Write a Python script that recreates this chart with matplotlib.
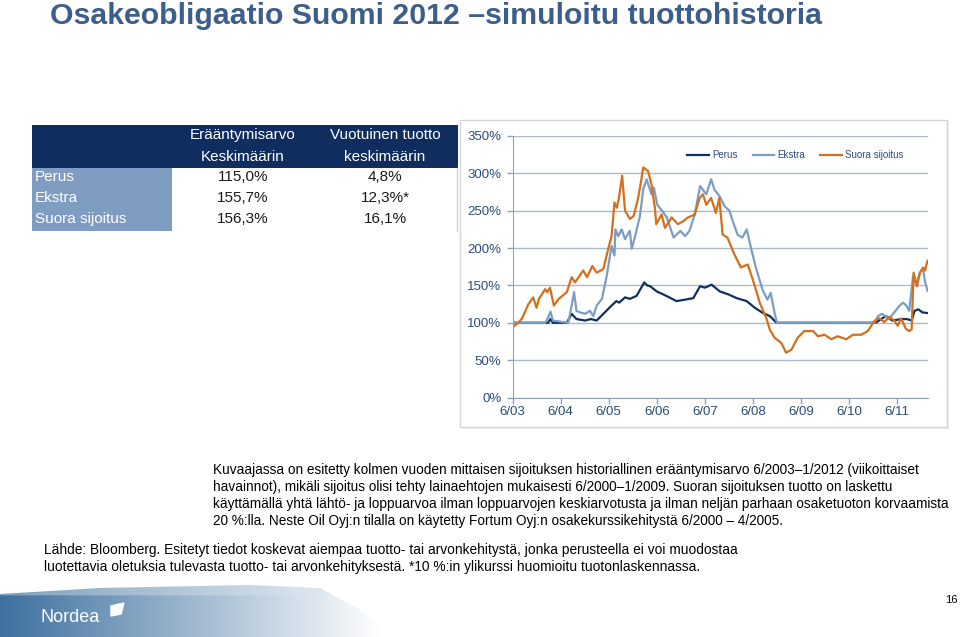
import numpy as np
import matplotlib
matplotlib.use('Agg')
import matplotlib.pyplot as plt
from matplotlib.patches import Rectangle, Polygon

# series data (decimal year, value in %)
perus = [(2003.42, 100), (2004.16, 100), (2004.21, 105), (2004.26, 100), (2004.55, 100),
         (2004.65, 112), (2004.75, 105), (2004.93, 103), (2005.05, 105), (2005.17, 103),
         (2005.34, 114), (2005.48, 123), (2005.58, 129), (2005.64, 127), (2005.76, 134),
         (2005.86, 132), (2006.00, 136), (2006.08, 145), (2006.16, 154), (2006.22, 150),
         (2006.28, 149), (2006.42, 142), (2006.62, 136), (2006.83, 129), (2007.01, 131),
         (2007.18, 133), (2007.32, 149), (2007.42, 147), (2007.56, 151), (2007.73, 142),
         (2007.91, 138), (2008.08, 133), (2008.29, 129), (2008.46, 120), (2008.63, 113),
         (2008.77, 109), (2008.88, 102), (2008.91, 100), (2010.97, 100), (2011.09, 105),
         (2011.18, 109), (2011.32, 103), (2011.51, 105), (2011.62, 105), (2011.72, 103),
         (2011.78, 116), (2011.86, 118), (2011.94, 114), (2012.05, 113)]

ekstra = [(2003.42, 100), (2004.10, 100), (2004.16, 107), (2004.21, 115), (2004.26, 103),
          (2004.58, 100), (2004.65, 123), (2004.70, 141), (2004.75, 116), (2004.82, 114),
          (2004.93, 112), (2005.03, 116), (2005.10, 109), (2005.17, 123), (2005.28, 132),
          (2005.38, 163), (2005.48, 203), (2005.54, 190), (2005.56, 225), (2005.62, 216),
          (2005.69, 225), (2005.76, 212), (2005.83, 220), (2005.86, 223), (2005.90, 199),
          (2005.97, 216), (2006.07, 243), (2006.14, 279), (2006.21, 292), (2006.31, 272),
          (2006.36, 281), (2006.43, 258), (2006.53, 250), (2006.63, 241), (2006.77, 214),
          (2006.91, 223), (2007.01, 216), (2007.10, 223), (2007.21, 245), (2007.32, 283),
          (2007.45, 272), (2007.55, 292), (2007.62, 278), (2007.72, 270), (2007.83, 256),
          (2007.93, 250), (2008.00, 236), (2008.10, 218), (2008.20, 214), (2008.29, 225),
          (2008.38, 200), (2008.48, 174), (2008.62, 144), (2008.72, 131), (2008.79, 140),
          (2008.87, 113), (2008.92, 100), (2010.95, 100), (2011.02, 109), (2011.11, 112),
          (2011.25, 105), (2011.47, 123), (2011.54, 127), (2011.61, 123), (2011.67, 116),
          (2011.75, 163), (2011.82, 150), (2011.89, 167), (2011.96, 172), (2012.00, 154),
          (2012.05, 143)]

suora = [(2003.42, 94), (2003.48, 97), (2003.54, 100), (2003.62, 106), (2003.75, 125),
         (2003.85, 134), (2003.92, 120), (2003.97, 132), (2004.10, 145), (2004.14, 141),
         (2004.20, 147), (2004.28, 123), (2004.38, 132), (2004.55, 141), (2004.65, 161),
         (2004.72, 154), (2004.89, 170), (2004.97, 161), (2005.08, 176), (2005.17, 167),
         (2005.31, 172), (2005.41, 199), (2005.48, 216), (2005.54, 261), (2005.59, 254),
         (2005.63, 266), (2005.70, 297), (2005.76, 250), (2005.86, 239), (2005.94, 243),
         (2006.03, 266), (2006.09, 288), (2006.14, 308), (2006.24, 303), (2006.31, 285),
         (2006.38, 254), (2006.41, 232), (2006.52, 245), (2006.59, 227), (2006.73, 241),
         (2006.86, 232), (2006.97, 236), (2007.07, 241), (2007.21, 245), (2007.31, 267),
         (2007.38, 272), (2007.45, 258), (2007.55, 267), (2007.65, 247), (2007.72, 267),
         (2007.79, 218), (2007.89, 214), (2008.03, 192), (2008.17, 174), (2008.31, 178),
         (2008.38, 165), (2008.46, 149), (2008.56, 127), (2008.70, 106), (2008.77, 91),
         (2008.87, 80), (2009.01, 73), (2009.11, 60), (2009.22, 64), (2009.35, 80),
         (2009.49, 89), (2009.67, 89), (2009.77, 82), (2009.91, 84), (2010.05, 78),
         (2010.18, 82), (2010.36, 78), (2010.50, 84), (2010.67, 84), (2010.81, 89),
         (2010.95, 103), (2011.05, 106), (2011.15, 101), (2011.26, 108), (2011.36, 103),
         (2011.43, 96), (2011.50, 106), (2011.60, 92), (2011.67, 89), (2011.72, 91),
         (2011.76, 167), (2011.83, 149), (2011.89, 167), (2011.96, 174), (2012.00, 170),
         (2012.05, 183)]

x_ticks = [2003.42 + i for i in range(9)]
x_labels = ['6/03', '6/04', '6/05', '6/06', '6/07', '6/08', '6/09', '6/10', '6/11']
y_ticks = [0, 50, 100, 150, 200, 250, 300, 350]

table_cols = [['Erääntymisarvo', 'Keskimäärin'], ['Vuotuinen tuotto', 'keskimäärin']]
table_rows = ['Perus', 'Ekstra', 'Suora sijoitus']
table_vals = [['115,0%', '4,8%'], ['155,7%', '12,3%*'], ['156,3%', '16,1%']]

note_lines = ['Kuvaajassa on esitetty kolmen vuoden mittaisen sijoituksen historiallinen erääntymisarvo 6/2003\u20131/2012 (viikoittaiset',
              'havainnot), mikäli sijoitus olisi tehty lainaehtojen mukaisesti 6/2000\u20131/2009. Suoran sijoituksen tuotto on laskettu',
              'käyttämällä yhtä lähtö- ja loppuarvoa ilman loppuarvojen keskiarvotusta ja ilman neljän parhaan osaketuoton korvaamista',
              '20 %:lla. Neste Oil Oyj:n tilalla on käytetty Fortum Oyj:n osakekurssikehitystä 6/2000 \u2013 4/2005.']
source_lines = ['Lähde: Bloomberg. Esitetyt tiedot koskevat aiempaa tuotto- tai arvonkehitystä, jonka perusteella ei voi muodostaa',
                'luotettavia oletuksia tulevasta tuotto- tai arvonkehityksestä. *10 %:in ylikurssi huomioitu tuotonlaskennassa.']

NAVY = '#0f2d5e'
STEEL = '#7f9cc2'
TITLE = '#3c5e8c'
TICK = '#2b4b7a'
FONT = 'Liberation Sans'

fig = plt.figure(figsize=(9.6, 6.37), dpi=100)

# background canvas in pixel coordinates
bg = fig.add_axes([0, 0, 1, 1])
bg.set_xlim(0, 960)
bg.set_ylim(637, 0)
bg.axis('off')

bg.text(50, 16, 'Osakeobligaatio Suomi 2012 \u2013simuloitu tuottohistoria', color=TITLE,
        fontsize=21.8, fontweight='bold', family=FONT, va='center', ha='left')

# table
bg.add_patch(Rectangle((32, 125), 426, 43, color=NAVY, lw=0))
bg.add_patch(Rectangle((32, 168), 140, 63, color=STEEL, lw=0))
bg.plot([457, 457], [168, 231], color='#c9d2dc', lw=1)
col_x = [243, 385]
for cx, (l1, l2) in zip(col_x, table_cols):
    bg.text(cx, 135, l1, color='white', fontsize=11, ha='center', va='center', family=FONT)
    bg.text(cx, 157, l2, color='white', fontsize=11, ha='center', va='center', family=FONT)
row_y = [177, 198.5, 219]
for ry, name, vals in zip(row_y, table_rows, table_vals):
    bg.text(35, ry, name, color='white', fontsize=11, ha='left', va='center', family=FONT)
    for cx, v in zip(col_x, vals):
        bg.text(cx, ry, v, color='#1a1a1a', fontsize=11, ha='center', va='center', family=FONT)

# chart panel frame
bg.add_patch(Rectangle((462, 122), 487, 307, facecolor='#ececec', edgecolor='none'))
bg.add_patch(Rectangle((460, 120), 487, 307, facecolor='white', edgecolor='#d6d6d6', lw=1))

# notes: fit the widest line into the same width as in the slide
notes = [bg.text(213, 470 + i * 17, line, fontsize=10, color='black', va='center', ha='left', family=FONT)
         for i, line in enumerate(note_lines)]
renderer = fig.canvas.get_renderer()
widest = max(t.get_window_extent(renderer).width for t in notes)
for t in notes:
    t.set_fontsize(10 * 734 / widest)
for i, line in enumerate(source_lines):
    bg.text(44, 550 + i * 17.5, line, fontsize=9.9, color='black', va='center', ha='left', family=FONT)

# footer swoosh
gx = np.linspace(0, 1, 400)
gy = np.linspace(0, 1, 60)
X, Y = np.meshgrid(gx, gy)
c0 = np.array([0.24, 0.44, 0.62])
c1 = np.array([1.0, 1.0, 1.0])
mix = np.clip(X * 1.05, 0, 1)[..., None]
img = c0 * (1 - mix) + c1 * mix
band = (Y < 0.2)[..., None]
img = np.where(band, img * 0.6 + 0.4 * np.array([0.85, 0.9, 0.94]), img)
im = bg.imshow(img, extent=(0, 400, 637, 585), aspect='auto', zorder=1)
swoosh = Polygon([(0, 594), (100, 588), (250, 585), (320, 588), (360, 610), (395, 637), (0, 637)],
                 closed=True, transform=bg.transData, facecolor='none', edgecolor='none')
bg.add_patch(swoosh)
im.set_clip_path(swoosh)
bg.set_xlim(0, 960)
bg.set_ylim(637, 0)
bg.text(40, 618, 'Nordea', color='white', fontsize=13, ha='left', va='center', family=FONT, zorder=3)
bg.add_patch(Polygon([(111, 606), (124, 603), (121, 614), (111, 616)], closed=True, color='white', zorder=3))
bg.text(951, 600, '16', fontsize=8, ha='center', va='center', color='black', family=FONT)

# line chart
ax = fig.add_axes([512.5 / 960, 1 - 397.5 / 637, (928 - 512.5) / 960, (397.5 - 136) / 637])
ax.set_facecolor('none')
for data, col, lab in [(perus, '#10305f', 'Perus'), (ekstra, '#7c9dc3', 'Ekstra'), (suora, '#d46f1c', 'Suora sijoitus')]:
    t = [d[0] for d in data]
    v = [d[1] for d in data]
    ax.plot(t, v, color=col, lw=1.6, label=lab)
ax.set_xlim(2003.42, 2012.06)
ax.set_ylim(0, 350)
ax.set_yticks(y_ticks)
ax.set_yticklabels([f'{y}%' for y in y_ticks])
ax.set_xticks(x_ticks)
ax.set_xticklabels(x_labels)
ax.grid(axis='y', color='#a9bacd', lw=1)
ax.set_axisbelow(True)
for s in ['top', 'right']:
    ax.spines[s].set_visible(False)
for s in ['left', 'bottom']:
    ax.spines[s].set_color('#8ea3bd')
ax.tick_params(colors='#8ea3bd', labelcolor=TICK, labelsize=9.5, length=4, width=1)
ax.tick_params(axis='x', pad=2)
ax.tick_params(axis='y', pad=4)
for lbl in ax.get_xticklabels() + ax.get_yticklabels():
    lbl.set_family(FONT)
leg = ax.legend(loc='upper left', bbox_to_anchor=(0.40, 0.98), ncol=3, frameon=False,
                handlelength=2.2, handletextpad=0.3, columnspacing=1.6,
                prop={'family': FONT, 'size': 7})
for txt in leg.get_texts():
    txt.set_color(TICK)

fig.savefig('out.png', dpi=100)
